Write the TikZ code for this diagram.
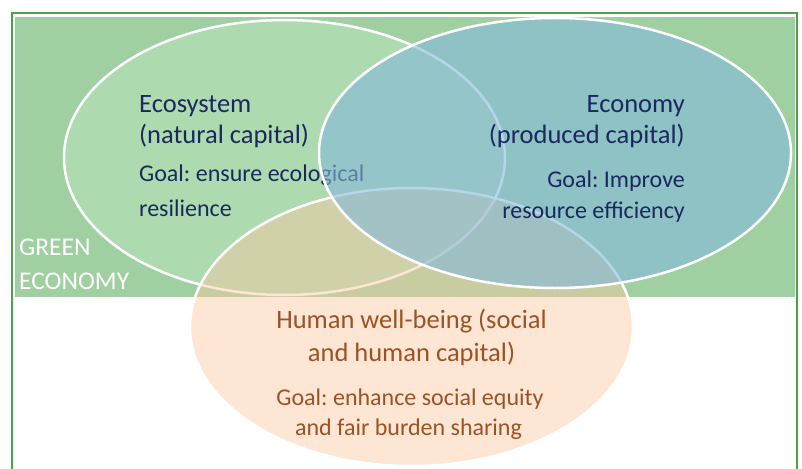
\documentclass[tikz,border=0pt]{standalone}
\usepackage{fontspec}
\setmainfont{Carlito}
\frenchspacing
\definecolor{bggreen}{RGB}{160,208,162}
\definecolor{framegreen}{RGB}{80,158,80}
\definecolor{ecofill}{RGB}{188,228,190}
\definecolor{econfill}{RGB}{132,185,219}
\definecolor{humfill}{RGB}{251,200,160}
\definecolor{navytext}{RGB}{26,40,96}
\definecolor{browntext}{RGB}{156,82,36}
\tikzset{
  circleedge/.style={draw=white, line width=2.5pt},
  titletext/.style={inner sep=0pt, font=\fontsize{26.5}{30}\selectfont},
  goaltext/.style={inner sep=0pt, font=\fontsize{24}{28}\selectfont},
  bluetext/.style={text=navytext},
  browntxt/.style={text=browntext},
  labeltext/.style={inner sep=0pt, text=white, font=\fontsize{25.5}{29}\selectfont}
}
\begin{document}
\begin{tikzpicture}[x=1pt,y=-1pt]
\useasboundingbox (0,0) rectangle (802,468);
\clip (0,0) rectangle (802,468);
\fill[white] (0,0) rectangle (802,468);
\draw[framegreen, line width=2pt] (12,13) rectangle (797,490);
\fill[bggreen] (15,17) rectangle (795,297);

\node[labeltext, anchor=base west] (green) at (19,255) {GREEN};
\node[labeltext, anchor=base west] (economyword) at (19,289) {ECONOMY};

% Ecosystem
\path[circleedge, fill=ecofill, fill opacity=0.5] (284.5,157.5) ellipse [x radius=220.5, y radius=137.5];
\node[titletext, bluetext, anchor=base west] (eco1) at (139,113) {Ecosystem};
\node[titletext, bluetext, anchor=base west] (eco2) at (139,143) {(natural capital)};
\node[goaltext, bluetext, anchor=base west] (eco3) at (139,181) {Goal: ensure ecological};
\node[goaltext, bluetext, anchor=base west] (eco4) at (139,216) {resilience};

% Human well-being
\path[circleedge, fill=humfill, fill opacity=0.45] (411.5,327) ellipse [x radius=221.5, y radius=139];
\node[titletext, browntxt, anchor=base] (hum1) at (411.5,328) {Human well-being (social};
\node[titletext, browntxt, anchor=base] (hum2) at (411.5,361) {and human capital)};
\node[goaltext, browntxt, anchor=base] (hum3) at (410,405) {Goal: enhance social equity};
\node[goaltext, browntxt, anchor=base] (hum4) at (408.5,435) {and fair burden sharing};

% Economy
\path[circleedge, fill=econfill, fill opacity=0.6] (555,153) ellipse [x radius=236, y radius=135];
\node[titletext, bluetext, anchor=base east] (econ1) at (685,113) {Economy};
\node[titletext, bluetext, anchor=base east] (econ2) at (685,143) {(produced capital)};
\node[goaltext, bluetext, anchor=base east] (econ3) at (685,187) {Goal: Improve};
\node[goaltext, bluetext, anchor=base east] (econ4) at (685,218) {resource efficiency};
\end{tikzpicture}
\end{document}
